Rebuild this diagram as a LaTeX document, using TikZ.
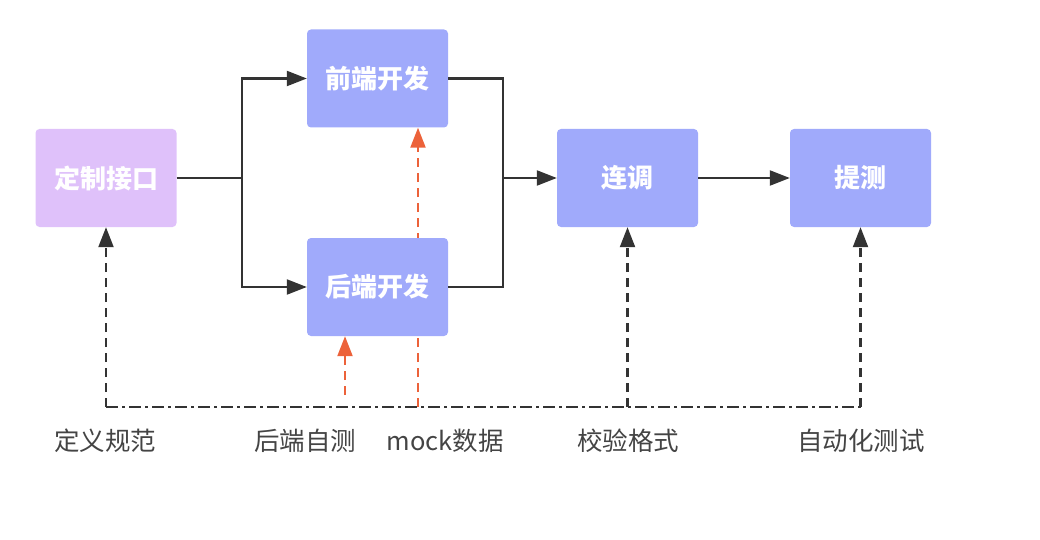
\documentclass[tikz,border=0pt]{standalone}
\usepackage{fontspec}
\setmainfont{Noto Sans CJK SC}
\usepackage{tikz}
\usetikzlibrary{arrows.meta,backgrounds}
\definecolor{lpurple}{RGB}{223, 193, 250}
\definecolor{lblue}{RGB}{160, 170, 251}
\definecolor{dgray}{RGB}{51, 51, 51}
\definecolor{tgray}{RGB}{68, 68, 68}
\definecolor{lorange}{RGB}{236, 98, 58}

\begin{document}
\begin{tikzpicture}[x = 1pt, y = -1pt,
	box/.style = {rectangle, rounded corners = 4pt, minimum width = 141pt, minimum height = 98pt, text = white, font = \fontsize{26}{30}\selectfont\bfseries},
	lbl/.style = {text = tgray, font = \fontsize{25.5}{30}\selectfont},
	arr/.style = {draw = dgray, line width = 2.2pt, -{Triangle[length = 20pt, width = 15pt]}},
	link/.style = {draw = dgray, line width = 2.2pt},
	chk/.style = {draw = dgray, line width = 2.2pt, dash pattern = on 9pt off 6pt, -{Triangle[length = 20pt, width = 15pt]}},
	mock/.style = {draw = lorange, line width = 2.2pt, dash pattern = on 9pt off 6pt, -{Triangle[length = 20pt, width = 15pt]}}]
			\useasboundingbox (0,0) rectangle (1040,540);
			\node (spec) at (106,178) [box, fill = lpurple] {定制接口};
			\node (fe) at (377.5,78.5) [box, fill = lblue] {前端开发};
			\node (be) at (377.5,287) [box, fill = lblue] {后端开发};
			\node (lt) at (627.5,178) [box, fill = lblue] {连调};
			\node (tc) at (860.5,178) [box, fill = lblue] {提测};
			\coordinate (split) at (242,178);
			\coordinate (merge) at (503,178);
			\coordinate (b1) at (106,407);
			\coordinate (b2) at (345,395);
			\coordinate (b3) at (418,407);
			\coordinate (b4) at (627.5,407);
			\coordinate (b5) at (860.5,407);
			\node (l1) at (105,441) [lbl] {定义规范};
			\node (l2) at (305,441) [lbl] {后端自测};
			\node (l3) at (445,441) [lbl] {mock数据};
			\node (l4) at (628,441) [lbl] {校验格式};
			\node (l5) at (861,441) [lbl] {自动化测试};
			\draw[link] (spec.east) -- (split);
			\draw[arr] (split) |- (fe.west);
			\draw[arr] (split) |- (be.west);
			\draw[link] (fe.east) -| (merge);
			\draw[link] (be.east) -| (merge);
			\draw[arr] (merge) -- (lt.west);
			\draw[arr] (lt) -- (tc);
			\draw[draw = dgray, line width = 2.2pt, dash pattern = on 12pt off 4pt on 3pt off 4pt] (b1) -- (b5);
			\draw[chk] (b1) -- (spec.south);
			\draw[chk] (b4) -- (lt.south);
			\draw[chk] (b5) -- (tc.south);
			\draw[mock] (b2) -- (b2 |- be.south);
			\begin{scope}[on background layer]
			\draw[mock] (b3) -- (b3 |- fe.south);
			\end{scope}
			\end{tikzpicture}
\end{document}
